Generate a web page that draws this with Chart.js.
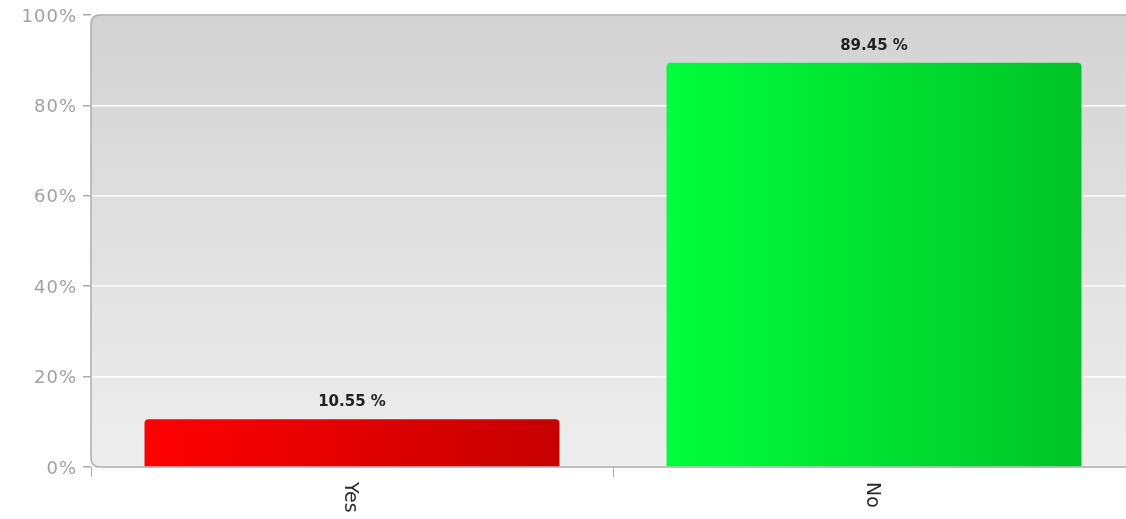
<!DOCTYPE html>
<html>
<head>
<meta charset="utf-8">
<script src="https://cdn.jsdelivr.net/npm/chart.js@4/dist/chart.umd.min.js"></script>
<style>
  html, body { margin: 0; padding: 0; background: #fff; overflow: hidden; }
  #wrap { width: 1126px; height: 519px; overflow: hidden; position: relative; }
  #box { width: 1136px; height: 519px; position: absolute; left: 0; top: 0; }
</style>
</head>
<body>
<div id="wrap"><div id="box"><canvas id="myChart"></canvas></div></div>
<script>
const categories = ["Yes", "No"];
const percents = [10.55, 89.45];
const yTicks = [0, 20, 40, 60, 80, 100];

// left -> right colour of each bar
const barFrom = ["#ff0000", "#00ff3c"];
const barTo = ["#c60000", "#00c428"];

function barGradient(context) {
  const chart = context.chart;
  if (!chart.chartArea) return barFrom[context.dataIndex];
  const xs = chart.scales.x;
  const cx = xs.getPixelForValue(context.dataIndex);
  const half = (xs.width / categories.length) * 0.795 / 2;
  const g = chart.ctx.createLinearGradient(cx - half, 0, cx + half, 0);
  g.addColorStop(0, barFrom[context.dataIndex]);
  g.addColorStop(1, barTo[context.dataIndex]);
  return g;
}

function roundRect(ctx, x, y, w, h, r) {
  ctx.beginPath();
  ctx.moveTo(x + r, y);
  ctx.lineTo(x + w, y);
  ctx.lineTo(x + w, y + h);
  ctx.lineTo(x + r, y + h);
  ctx.quadraticCurveTo(x, y + h, x, y + h - r);
  ctx.lineTo(x, y + r);
  ctx.quadraticCurveTo(x, y, x + r, y);
  ctx.closePath();
}

// grey panel behind the plot + texts
const panel = {
  id: "panel",
  beforeDraw(chart) {
    const { ctx, chartArea: a } = chart;
    ctx.save();
    const g = ctx.createLinearGradient(0, a.top, 0, a.bottom);
    g.addColorStop(0, "#d3d3d3");
    g.addColorStop(1, "#eeeeee");
    roundRect(ctx, a.left, a.top, a.right - a.left + 10, a.bottom - a.top, 9);
    ctx.fillStyle = g;
    ctx.fill();
    ctx.restore();
  },
  beforeDatasetsDraw(chart) {
    const { ctx, chartArea: a } = chart;
    ctx.save();
    roundRect(ctx, a.left, a.top, a.right - a.left + 10, a.bottom - a.top, 9);
    ctx.strokeStyle = "#acacac";
    ctx.lineWidth = 1.5;
    ctx.stroke();
    ctx.restore();
  },
  afterDatasetsDraw(chart) {
    const { ctx, chartArea: a } = chart;
    const meta = chart.getDatasetMeta(0);
    ctx.save();
    // value labels
    ctx.font = "bold 15px 'DejaVu Sans', Verdana, sans-serif";
    ctx.fillStyle = "#222";
    ctx.textAlign = "center";
    ctx.textBaseline = "middle";
    meta.data.forEach((bar, i) => {
      ctx.fillText(percents[i].toFixed(2) + " %", bar.x, bar.y - 17);
    });
    // y tick labels
    ctx.font = "18px 'DejaVu Sans', Verdana, sans-serif";
    ctx.letterSpacing = "1px";
    ctx.fillStyle = "#a2a2a2";
    ctx.textAlign = "right";
    const ys = chart.scales.y;
    yTicks.forEach(v => {
      ctx.fillText(v + "%", 77, ys.getPixelForValue(v) + 2);
    });
    ctx.letterSpacing = "0px";
    // category labels, rotated clockwise
    ctx.font = "19px 'DejaVu Sans', Verdana, sans-serif";
    ctx.fillStyle = "#2a2a2a";
    ctx.textAlign = "left";
    const xs = chart.scales.x;
    categories.forEach((c, i) => {
      ctx.save();
      ctx.translate(xs.getPixelForValue(i) - 2, a.bottom + 15);
      ctx.rotate(Math.PI / 2);
      ctx.fillText(c, 0, 0);
      ctx.restore();
    });
    ctx.restore();
  }
};

const ctx = document.getElementById("myChart").getContext("2d");
new Chart(ctx, {
  type: "bar",
  data: {
    labels: categories,
    datasets: [{
      data: percents,
      backgroundColor: barGradient,
      borderRadius: { topLeft: 4, topRight: 4 },
      borderSkipped: "bottom",
      barPercentage: 0.795,
      categoryPercentage: 1
    }]
  },
  options: {
    responsive: true,
    maintainAspectRatio: false,
    animation: false,
    layout: { padding: { top: 15, right: 1, left: 0, bottom: 0 } },
    plugins: { legend: { display: false }, tooltip: { enabled: false } },
    scales: {
      y: {
        min: 0,
        max: 100,
        afterFit(s) { s.width = 91; },
        afterBuildTicks(s) { s.ticks = yTicks.map(v => ({ value: v })); },
        border: { display: false },
        grid: { color: "#ffffff", lineWidth: 1.5, tickColor: "#aaaaaa", tickLength: 8 },
        ticks: { color: "rgba(0,0,0,0)" }
      },
      x: {
        afterFit(s) { s.height = 52; },
        border: { display: false },
        grid: { offset: true, drawOnChartArea: false, tickColor: "#aaaaaa", tickLength: 10 },
        ticks: { color: "rgba(0,0,0,0)", maxRotation: 0 }
      }
    }
  },
  plugins: [panel]
});
</script>
</body>
</html>
